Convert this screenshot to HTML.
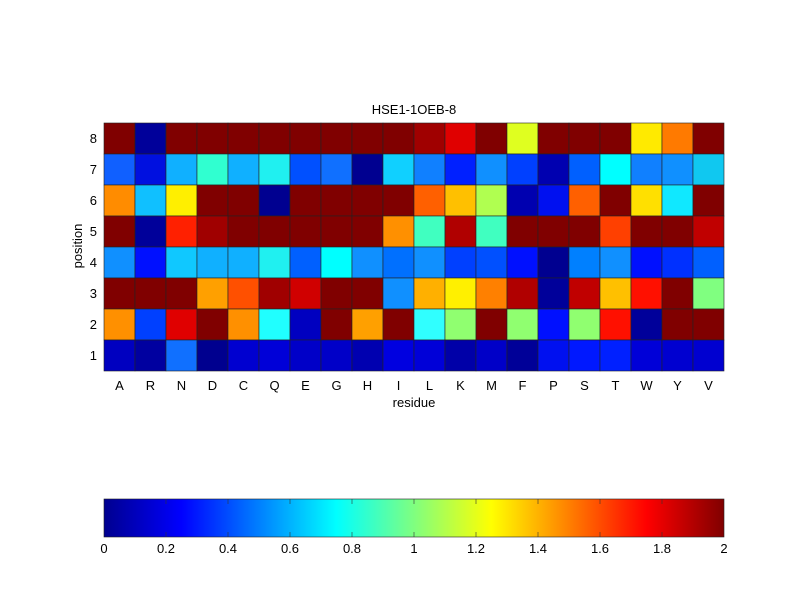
<!DOCTYPE html>
<html><head><style>body{margin:0;background:#fff}svg{display:block}text{font-family:"Liberation Sans",sans-serif;font-size:13px;fill:#000}</style></head>
<body>
<svg width="800" height="600" xmlns="http://www.w3.org/2000/svg">
<defs><linearGradient id="jet" x1="0" x2="1" y1="0" y2="0">
<stop offset="0" stop-color="#00008f"/><stop offset="0.125" stop-color="#0000ff"/><stop offset="0.375" stop-color="#00ffff"/><stop offset="0.625" stop-color="#ffff00"/><stop offset="0.875" stop-color="#ff0000"/><stop offset="1" stop-color="#800000"/></linearGradient></defs>
<rect width="800" height="600" fill="#fff"/>
<g id="grid" stroke="#222" stroke-width="0.6"></g>
<text x="414" y="114" text-anchor="middle">HSE1-1OEB-8</text>
<g id="lbl"></g>
<text x="414" y="407" text-anchor="middle">residue</text>
<text transform="translate(82,246) rotate(-90)" text-anchor="middle">position</text>
<rect x="104" y="499" width="620" height="38" fill="url(#jet)" stroke="#222" stroke-width="0.6"/>
<g id="cb"></g>
</svg>
<script>
var dr="#800000";
var rows=[
[dr,"#00009a",dr,dr,dr,dr,dr,dr,dr,dr,"#a00000","#e00000",dr,"#dfff20",dr,dr,dr,"#ffea00","#ff7a00",dr],
["#1060ff","#0010e0","#10b0ff","#30ffd0","#10b0ff","#20f0f0","#0050ff","#1070ff","#000090","#10d0ff","#1080ff","#0020ff","#1090ff","#0040ff","#0000b0","#0060ff","#00ffff","#1080ff","#1090ff","#10c8f0"],
["#ff8c00","#10c0ff","#ffef00",dr,dr,"#000090",dr,dr,dr,dr,"#ff6000","#ffc000","#b0ff50","#0000b0","#0010f0","#ff6000",dr,"#ffe000","#10e8ff",dr],
[dr,"#00009a","#ff2000","#a00000",dr,dr,dr,dr,dr,"#ff9000","#40ffc0","#b00000","#40ffc0",dr,dr,dr,"#ff4000",dr,dr,"#c00000"],
["#1090ff","#0010ff","#10c8ff","#10b0ff","#10b0ff","#20f0f0","#0060ff","#00ffff","#1090ff","#0070ff","#1090ff","#0040ff","#0050ff","#0010ff","#000090","#0080ff","#1090ff","#0010ff","#0030ff","#0060ff"],
[dr,dr,dr,"#ffa000","#ff5000","#a00000","#d00000",dr,dr,"#1090ff","#ffb000","#fff000","#ff8000","#b00000","#00009a","#c00000","#ffc000","#ff1000",dr,"#80ff80"],
["#ff9000","#0040ff","#e00000",dr,"#ff9000","#20ffff","#0000c0",dr,"#ffa000",dr,"#30ffff","#90ff70",dr,"#90ff70","#0010ff","#90ff70","#ff1000","#00009a",dr,dr],
["#0000c0","#0000a0","#1070ff","#00008f","#0000d0","#0000d8","#0000c8","#0000c8","#0000b0","#0000e0","#0000d8","#0000a8","#0000c8","#000098","#0010f0","#0018ff","#0020ff","#0000d8","#0000d0","#0000d0"]];
var res="ARNDCQEGHILKMFPSTWYV".split("");
var ns="http://www.w3.org/2000/svg";
function el(p,t,a,tx){var e=document.createElementNS(ns,t);for(var k in a)e.setAttribute(k,a[k]);if(tx!=null)e.textContent=tx;p.appendChild(e);}
var g=document.getElementById("grid"),l=document.getElementById("lbl"),cb=document.getElementById("cb");
for(var r=0;r<8;r++)for(var c=0;c<20;c++)el(g,"rect",{x:104+c*31,y:123+r*31,width:31,height:31,fill:rows[r][c]});
for(var c=0;c<20;c++)el(l,"text",{x:119.5+c*31,y:390,"text-anchor":"middle"},res[c]);
for(var r=0;r<8;r++)el(l,"text",{x:97,y:143+r*31,"text-anchor":"end"},String(8-r));
var tl=["0","0.2","0.4","0.6","0.8","1","1.2","1.4","1.6","1.8","2"];
for(var i=0;i<11;i++){var x=104+i*62;
el(cb,"text",{x:x,y:553,"text-anchor":"middle"},tl[i]);
if(i>0&&i<10){el(cb,"line",{x1:x,x2:x,y1:499,y2:504,stroke:"#333","stroke-width":0.6});el(cb,"line",{x1:x,x2:x,y1:532,y2:537,stroke:"#333","stroke-width":0.6});}}
</script>
</body></html>
